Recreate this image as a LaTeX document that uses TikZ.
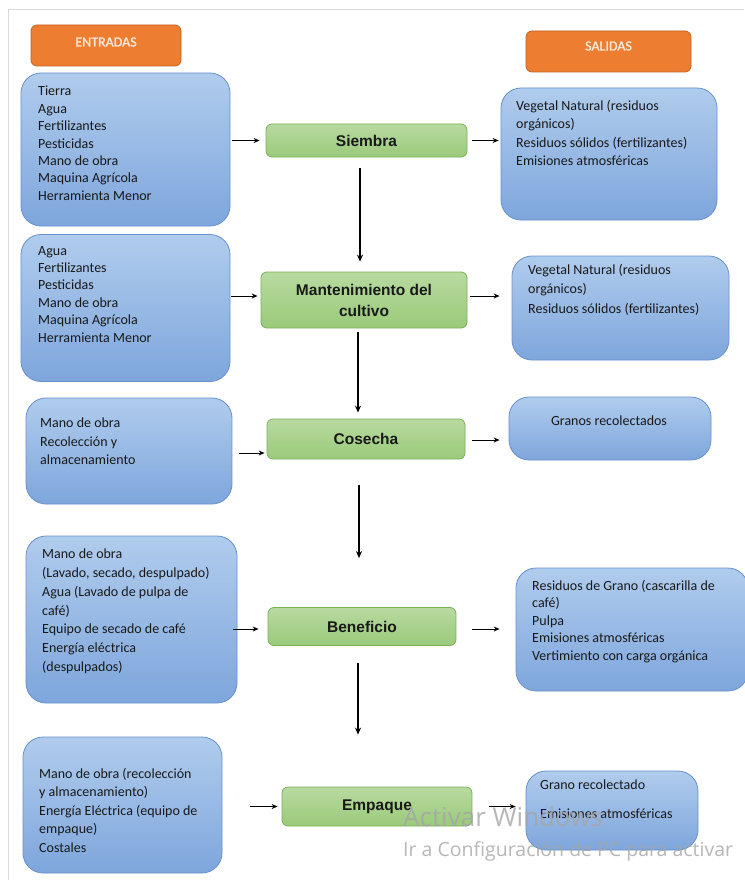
\documentclass[tikz,border=0pt]{standalone}
\usepackage{fontspec}
\setmainfont{Carlito}
\newfontfamily\arialf{Liberation Sans}
\newfontfamily\wmfont{Open Sans}
\newfontfamily\hdrf[FakeBold=1.6]{Carlito}
\usetikzlibrary{arrows.meta}
\definecolor{bluetop}{RGB}{176,204,237}
\definecolor{bluebot}{RGB}{126,166,220}
\definecolor{blueline}{RGB}{104,145,204}
\definecolor{greentop}{RGB}{184,218,160}
\definecolor{greenbot}{RGB}{154,202,122}
\definecolor{greenline}{RGB}{122,176,88}
\definecolor{orfill}{RGB}{237,125,49}
\definecolor{orline}{RGB}{196,98,36}
\definecolor{ortext}{RGB}{255,232,214}
\definecolor{txt}{RGB}{25,25,25}
\definecolor{framec}{RGB}{218,218,218}
\definecolor{wmc}{RGB}{165,165,165}
\begin{document}
\begin{tikzpicture}[x=1pt,y=-1pt,
  bbox/.style={draw=blueline, line width=0.8pt, rounded corners=20pt, top color=bluetop, bottom color=bluebot, inner sep=0pt},
  gbox/.style={draw=greenline, line width=0.8pt, rounded corners=6pt, top color=greentop, bottom color=greenbot, inner sep=0pt, font=\arialf\bfseries\fontsize{15.5}{21}\selectfont, text=txt, align=center},
  obox/.style={draw=orline, line width=0.8pt, rounded corners=6pt, fill=orfill, inner sep=0pt},
  otext/.style={inner sep=0pt, font=\hdrf\fontsize{14}{16}\selectfont, text=ortext},
  btext/.style={anchor=north west, inner sep=0pt, align=left, text=txt},
  arr/.style={-{Stealth[length=6pt,width=5pt]}, line width=1pt, black},
  varr/.style={-{Stealth[length=7pt,width=6pt]}, line width=1.6pt, black},
  wm/.style={inner sep=0pt, text=wmc, text opacity=0.8}
]
\useasboundingbox (0,0) rectangle (744,880);
\fill[white] (0,0) rectangle (744,880);
\draw[framec, line width=1pt] (8,880) -- (8,10) -- (744,10);

% headers
\node[obox, minimum width=150, minimum height=41] (hin) at (106,45.5) {};
\node[otext] (hint) at (106,42) {ENTRADAS};
\node[obox, minimum width=165, minimum height=41] (hout) at (608.5,51.5) {};
\node[otext] (houtt) at (608.5,46) {SALIDAS};

% process boxes
\node[gbox, minimum width=201, minimum height=33] (s1) at (366.5,140.5) {Siembra};
\node[gbox, minimum width=206, minimum height=56] (m1) at (364,300) {Mantenimiento del\\cultivo};
\node[gbox, minimum width=198, minimum height=40] (c1) at (366,439) {Cosecha};
\node[gbox, minimum width=188, minimum height=38] (b1) at (362,626.5) {Beneficio};
\node[gbox, minimum width=190, minimum height=39] (e1) at (377,806.5) {Empaque};

% input boxes
\node[bbox, minimum width=209, minimum height=153] (in1) at (125.5,149.5) {};
\node[btext, font=\fontsize{14}{17.4}\selectfont] (in1t) at (38,86) {Tierra\\Agua\\Fertilizantes\\Pesticidas\\Mano de obra\\Maquina Agrícola\\Herramienta Menor};
\node[bbox, minimum width=209, minimum height=147] (in2) at (125.5,308) {};
\node[btext, font=\fontsize{14}{17.4}\selectfont] (in2t) at (38,246) {Agua\\Fertilizantes\\Pesticidas\\Mano de obra\\Maquina Agrícola\\Herramienta Menor};
\node[bbox, minimum width=206, minimum height=106] (in3) at (129,451) {};
\node[btext, font=\fontsize{14}{18.5}\selectfont] (in3t) at (40,418) {Mano de obra\\Recolección y\\almacenamiento};
\node[bbox, minimum width=211, minimum height=167] (in4) at (131.5,619.5) {};
\node[btext, font=\fontsize{14}{18.7}\selectfont] (in4t) at (42,549) {Mano de obra\\(Lavado, secado, despulpado)\\Agua (Lavado de pulpa de\\café)\\Equipo de secado de café\\Energía eléctrica\\(despulpados)};
\node[bbox, minimum width=199, minimum height=136] (in5) at (122.5,805) {};
\node[btext, font=\fontsize{14}{18.5}\selectfont] (in5t) at (39,768) {Mano de obra (recolección\\y almacenamiento)\\Energía Eléctrica (equipo de\\empaque)\\Costales};

% output boxes
\node[bbox, minimum width=216, minimum height=132] (o1) at (609,154) {};
\node[btext, font=\fontsize{14}{18.3}\selectfont] (o1t) at (516,100) {Vegetal Natural (residuos\\orgánicos)\\Residuos sólidos (fertilizantes)\\Emisiones atmosféricas};
\node[bbox, minimum width=217, minimum height=104] (o2) at (620.5,308) {};
\node[btext, font=\fontsize{14}{19.5}\selectfont] (o2t) at (528,264) {Vegetal Natural (residuos\\orgánicos)\\Residuos sólidos (fertilizantes)};
\node[bbox, minimum width=202, minimum height=63] (o3) at (610,428.5) {};
\node[inner sep=0pt, font=\fontsize{14}{17}\selectfont, text=txt] (o3t) at (609,421) {Granos recolectados};
\node[bbox, minimum width=232, minimum height=123] (o4) at (632,629.5) {};
\node[btext, font=\fontsize{14}{17.4}\selectfont] (o4t) at (532,580) {Residuos de Grano (cascarilla de\\café)\\Pulpa\\Emisiones atmosféricas\\Vertimiento con carga orgánica};
\node[bbox, minimum width=172, minimum height=79] (o5) at (612,810.5) {};
\node[btext, font=\fontsize{14}{17.4}\selectfont] (o5t) at (540,780) {Grano recolectado\\[11.6pt]Emisiones atmosféricas};

% input arrows
\draw[arr, shorten <=2pt, shorten >=6pt] (in1.east |- s1.west) -- (s1.west);
\draw[arr, shorten <=1pt, shorten >=3pt] ([yshift=4pt]in2.east |- m1.west) -- ([yshift=4pt]m1.west);
\draw[arr, shorten <=7pt, shorten >=2pt] ([yshift=-2pt]in3.east) -- ([yshift=-2pt]in3.east -| c1.west);
\draw[arr, shorten <=-4pt, shorten >=9pt] ([yshift=-2.5pt]in4.east |- b1.west) -- ([yshift=-2.5pt]b1.west);
\draw[arr, shorten <=28pt, shorten >=4pt] (in5.east |- e1.west) -- (e1.west);

% output arrows
\draw[arr, shorten <=5pt, shorten >=2pt] (s1.east) -- (s1.east -| o1.west);
\draw[arr, shorten <=3pt, shorten >=12pt] ([yshift=4pt]m1.east) -- ([yshift=4pt]m1.east -| o2.west);
\draw[arr, shorten <=7pt, shorten >=9pt] ([yshift=-1pt]c1.east) -- ([yshift=-1pt]c1.east -| o3.west);
\draw[arr, shorten <=16pt, shorten >=16pt] ([yshift=-2.5pt]b1.east) -- ([yshift=-2.5pt]b1.east -| o4.west);
\draw[arr, shorten <=17pt, shorten >=10pt] (e1.east) -- (e1.east -| o5.west);

% vertical arrows
\draw[varr, shorten <=11pt, shorten >=10pt] ([xshift=-6.5pt]s1.south) -- ([xshift=-6.5pt]s1.south |- m1.north);
\draw[varr, shorten <=4pt, shorten >=6pt] ([xshift=-6pt]m1.south) -- ([xshift=-6pt]m1.south |- c1.north);
\draw[varr, shorten <=26pt, shorten >=49pt] ([xshift=-7pt]c1.south) -- ([xshift=-7pt]c1.south |- b1.north);
\draw[varr, shorten <=17pt, shorten >=52pt] ([xshift=-4pt]b1.south) -- ([xshift=-4pt]b1.south |- e1.north);

% watermark
\node[wm, anchor=west, font=\wmfont\fontsize{26}{30}\selectfont] (wm1) at (403,817) {Activar Windows};
\node[wm, anchor=west, font=\wmfont\fontsize{19.5}{23}\selectfont] (wm2) at (403,851) {Ir a Configuración de PC para activar};
\end{tikzpicture}
\end{document}
